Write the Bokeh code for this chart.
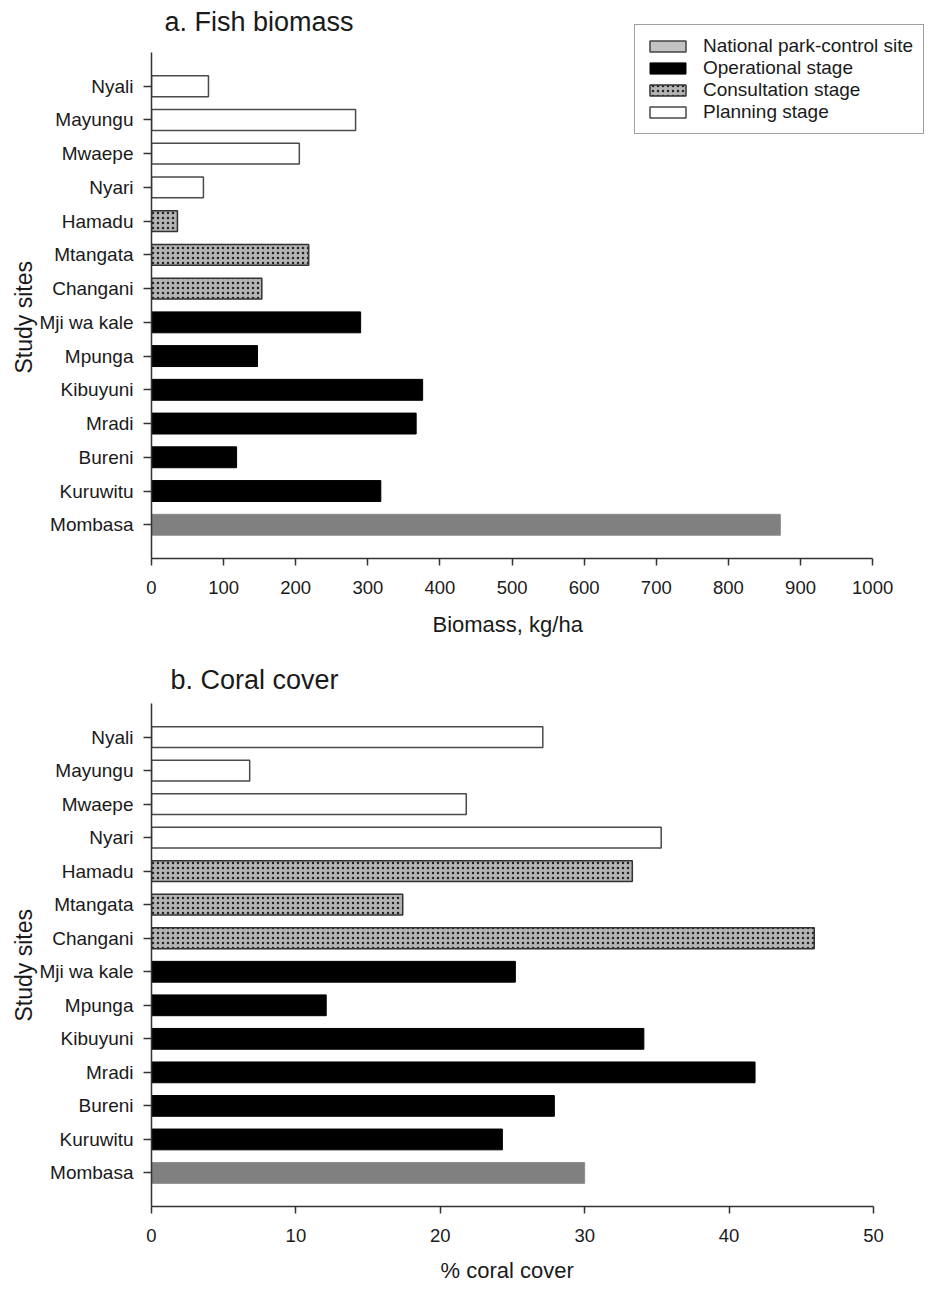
from bokeh.plotting import figure
from bokeh.models import (ColumnDataSource, Range1d, FixedTicker, Legend,
                          LegendItem, Label, Title)
from bokeh.layouts import column
from bokeh.embed import file_html
from bokeh.resources import INLINE

# ---------------- data ----------------
sites = ["Mombasa", "Kuruwitu", "Bureni", "Mradi", "Kibuyuni", "Mpunga",
         "Mji wa kale", "Changani", "Mtangata", "Hamadu", "Nyari", "Mwaepe",
         "Mayungu", "Nyali"]
stages = ["National park-control site",
          "Operational stage", "Operational stage", "Operational stage",
          "Operational stage", "Operational stage", "Operational stage",
          "Consultation stage", "Consultation stage", "Consultation stage",
          "Planning stage", "Planning stage", "Planning stage", "Planning stage"]
biomass = [872, 318, 118, 367, 376, 147, 290, 153, 218, 36, 72, 205, 283, 79]
coral = [30.0, 24.3, 27.9, 41.8, 34.1, 12.1, 25.2, 45.9, 17.4, 33.3, 35.3,
         21.8, 6.8, 27.1]
stage_order = ["National park-control site", "Operational stage",
               "Consultation stage", "Planning stage"]
biomass_ticks = [0, 100, 200, 300, 400, 500, 600, 700, 800, 900, 1000]
coral_ticks = [0, 10, 20, 30, 40, 50]

# ---------------- styles ----------------
FONT = "Liberation Sans"
TXT = "#1a1a1a"
AX = "#333333"
bar_style = {
    "National park-control site": dict(fill_color="#808080", line_color="#8c8c8c", line_width=1),
    "Operational stage": dict(fill_color="#000000", line_color="#000000", line_width=1),
    "Consultation stage": dict(fill_color="#b4b4b4", line_color="#333333", line_width=1.5,
                               hatch_pattern="dot", hatch_color="#222222",
                               hatch_scale=5, hatch_weight=1.6),
    "Planning stage": dict(fill_color="#ffffff", line_color="#4a4a4a", line_width=1.5),
}

ypos = list(range(len(sites)))


def text_title(text, size, align, offset, standoff):
    return Title(text=text, text_font=FONT, text_font_size=size,
                 text_font_style="normal", text_color=TXT, align=align,
                 offset=offset, standoff=standoff)


def make_panel(values, xlabel, xmax, x_end, y_end, ticks, h, b_top, b_bottom,
               xlabel_offset, xlabel_standoff):
    p = figure(width=932, height=h,
               x_range=Range1d(0, x_end), y_range=Range1d(-1, y_end),
               output_backend="svg", toolbar_location=None,
               min_border_left=151, min_border_right=0,
               min_border_top=b_top, min_border_bottom=b_bottom)
    p.background_fill_color = None
    p.border_fill_color = "white"

    renderers = {}
    for st in stage_order:
        idx = [i for i, s in enumerate(stages) if s == st]
        src = ColumnDataSource(dict(y=[ypos[i] for i in idx],
                                    value=[values[i] for i in idx]))
        renderers[st] = p.hbar(y="y", left=0, right="value", height=0.62,
                               source=src, **bar_style[st])

    p.xgrid.visible = False
    p.ygrid.visible = False
    p.outline_line_color = None

    xa = p.xaxis[0]
    xa.ticker = FixedTicker(ticks=ticks)
    xa.bounds = (0, xmax)
    xa.major_label_text_font = FONT
    xa.major_label_text_font_size = "18.5px"
    xa.major_label_text_color = TXT
    xa.major_label_standoff = 15
    xa.axis_line_color = AX
    xa.axis_line_width = 1.5
    xa.major_tick_line_color = AX
    xa.major_tick_line_width = 1.5
    xa.major_tick_out = 7
    xa.major_tick_in = 0
    xa.minor_tick_out = 0
    xa.minor_tick_in = 0

    ya = p.yaxis[0]
    ya.ticker = FixedTicker(ticks=ypos)
    ya.major_label_overrides = {y: s for y, s in zip(ypos, sites)}
    ya.bounds = (-1, len(sites))
    ya.major_label_text_font = FONT
    ya.major_label_text_font_size = "19px"
    ya.major_label_text_color = TXT
    ya.major_label_standoff = 10
    ya.axis_line_color = AX
    ya.axis_line_width = 1.5
    ya.major_tick_line_color = AX
    ya.major_tick_line_width = 1.5
    ya.major_tick_out = 8
    ya.major_tick_in = 0
    ya.minor_tick_out = 0
    ya.minor_tick_in = 0

    # axis titles placed over the axes' own extent
    p.add_layout(text_title(xlabel, "22px", "left", xlabel_offset,
                            xlabel_standoff), "below")
    p.add_layout(text_title("Study sites", "23px", "left", 185, 0), "left")
    return p, renderers


# panel a: the plotting area reaches up and right so the legend box fits;
# the axes themselves are bounded to the data extent
p1, r1 = make_panel(biomass, "Biomass, kg/ha", 1000, 1083, 15.54,
                    biomass_ticks, 650, 0, 92, 281, 26)
p1.add_layout(Label(x=13, y=537, x_units="screen", y_units="screen",
                    text="a. Fish biomass", text_font=FONT,
                    text_font_size="27px", text_color=TXT,
                    text_baseline="alphabetic", text_align="left"))

# panel b
p2, r2 = make_panel(coral, "% coral cover", 50, 54.09, 14,
                    coral_ticks, 643, 53, 86, 289, 22)
p2.title.text = "b. Coral cover"
p2.title.text_font = FONT
p2.title.text_font_size = "27px"
p2.title.text_font_style = "normal"
p2.title.text_color = TXT
p2.title.align = "left"
p2.title.offset = 19
p2.title.standoff = 18

# legend swatch for the control site is drawn lighter than its bar:
# a hidden copy of the Mombasa bar carries that swatch style
park_src = r1["National park-control site"].data_source
park_swatch = p1.hbar(y="y", left=0, right="value", height=0.62,
                      source=park_src, fill_color="#c2c2c2",
                      line_color="#444444", line_width=1.5, visible=False)
items = [LegendItem(label="National park-control site", renderers=[park_swatch])]
for st in stage_order[1:]:
    items.append(LegendItem(label=st, renderers=[r1[st]]))

legend = Legend(items=items, location=(483, 424), orientation="vertical",
                label_text_font=FONT, label_text_font_size="19px",
                label_text_color=TXT, glyph_width=45, glyph_height=14,
                label_standoff=13, label_height=22, padding=10, spacing=0,
                margin=0, border_line_color="#444444", border_line_width=1.5,
                background_fill_color="white", background_fill_alpha=1.0)
p1.add_layout(legend)

layout = column(p1, p2)
open("out.html", "w").write(file_html(layout, INLINE))
